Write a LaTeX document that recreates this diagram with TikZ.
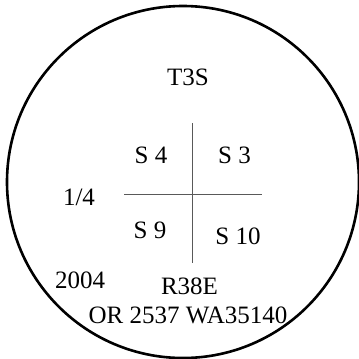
\documentclass[tikz,border=0pt]{standalone}
\usepackage{fontspec}
\setmainfont{Liberation Serif}
\tikzset{
  lbl/.style={anchor=base, inner sep=0pt, font=\fontsize{25}{29}\selectfont},
  ring/.style={draw=black, line width=2.6pt},
  cross/.style={draw=black!65, line width=0.8pt}
}
\begin{document}
\begin{tikzpicture}[x=1pt,y=-1pt]
\useasboundingbox (0,0) rectangle (359,359);
\fill[white] (0,0) rectangle (359,359);
\node[ring, circle, minimum size=352pt, inner sep=0pt] (disc) at (183,182) {};
\coordinate (vt) at (192,123);
\coordinate (vb) at (192,263);
\coordinate (hl) at (124,194);
\coordinate (hr) at (262,194);
\draw[cross] (vt) -- (vb);
\draw[cross] (hl) -- (hr);
\node[lbl] (t3s) at (188,85) {T3S};
\node[lbl] (s4) at (151,163) {S 4};
\node[lbl] (s3) at (234.5,163) {S 3};
\node[lbl] (frac) at (79,205) {1/4};
\node[lbl] (s9) at (150,238) {S 9};
\node[lbl] (s10) at (238,244) {S 10};
\node[lbl] (yr) at (80,288) {2004};
\node[lbl] (rng) at (189.5,294) {R38E};
\node[lbl] (orwa) at (188,323) {OR 2537 WA35140};
\end{tikzpicture}
\end{document}
